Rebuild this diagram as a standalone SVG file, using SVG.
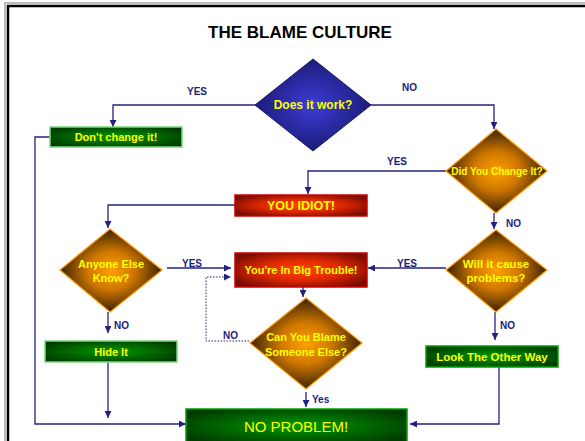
<svg xmlns="http://www.w3.org/2000/svg" width="585" height="441" viewBox="0 0 585 441">
<defs>
<style>
.frame{fill:none;stroke:#000;stroke-width:2.5}
.shadow{fill:none;stroke:#bbb;stroke-width:2}
.title{font-family:"Liberation Sans",Arial,sans-serif;font-weight:bold;font-size:17px;fill:#000;text-anchor:middle}
.con{fill:none;stroke:#23237f;stroke-width:1.3}
.dot{fill:none;stroke:#23237f;stroke-width:1;stroke-dasharray:1.5 1.5}
.lbl{font-family:"Liberation Sans",Arial,sans-serif;font-weight:bold;font-size:10px;fill:#1c1c80}
.nt{font-family:"Liberation Sans",Arial,sans-serif;font-weight:bold;font-size:11px;fill:#ffff00;text-anchor:middle}
.dblue{fill:url(#gBlue);stroke:#1a1a6a;stroke-width:1}
.dor{fill:url(#gOrange);stroke:#ff9900;stroke-width:1.2}
.bred{fill:url(#gRed);stroke:#cc0000;stroke-width:1.5}
.bgreen{fill:url(#gGreen);stroke:#7fd77f;stroke-width:1.5}
.bgreen2{fill:url(#gGreen);stroke:#00a000;stroke-width:1.5}
</style>
<radialGradient id="gBlue" cx="0.5" cy="0.5" r="0.5">
<stop offset="0" stop-color="#3c3cd8"/><stop offset="1" stop-color="#1c1c78"/>
</radialGradient>
<radialGradient id="gOrange" cx="0.5" cy="0.5" r="0.5">
<stop offset="0" stop-color="#ffa000"/><stop offset="0.45" stop-color="#d07800"/><stop offset="1" stop-color="#3a2200"/>
</radialGradient>
<radialGradient id="gRed" cx="0.5" cy="0.5" r="0.6">
<stop offset="0" stop-color="#ff4400"/><stop offset="0.5" stop-color="#e02800"/><stop offset="1" stop-color="#7a0c00"/>
</radialGradient>
<radialGradient id="gGreen" cx="0.5" cy="0.5" r="0.6">
<stop offset="0" stop-color="#009a00"/><stop offset="1" stop-color="#003c00"/>
</radialGradient>
<marker id="arr" viewBox="0 0 8 8" refX="8" refY="4" markerWidth="7" markerHeight="7" markerUnits="userSpaceOnUse" orient="auto">
<path d="M0,0 L8,4 L0,8 Z" fill="#23237f"/>
</marker>
</defs>

<path class="shadow" d="M5,441 V3 H585"/>
<path class="frame" d="M8,441 V6 H585"/>
<text class="title" x="300" y="38">THE BLAME CULTURE</text>

<g id="connectors">
<path class="con" d="M256,105 H113 V127" marker-end="url(#arr)"/>
<path class="con" d="M370,105 H494 V129" marker-end="url(#arr)"/>
<path class="con" d="M446,171 H308 V194" marker-end="url(#arr)"/>
<path class="con" d="M494,213 V229" marker-end="url(#arr)"/>
<path class="con" d="M446,268 H368" marker-end="url(#arr)"/>
<path class="con" d="M495,312 V340" marker-end="url(#arr)"/>
<path class="con" d="M499,367 V424 H410" marker-end="url(#arr)"/>
<path class="con" d="M235,205 H108 V228" marker-end="url(#arr)"/>
<path class="con" d="M167,268 H231" marker-end="url(#arr)"/>
<path class="con" d="M108,312 V333" marker-end="url(#arr)"/>
<path class="con" d="M108,362 V418" marker-end="url(#arr)"/>
<path class="con" d="M50,137 H35 V424 H186" marker-end="url(#arr)"/>
<path class="con" d="M303,287 V297" marker-end="url(#arr)"/>
<path class="dot" d="M249,341 H206 V277 H231" marker-end="url(#arr)"/>
<path class="con" d="M306,392 V407" marker-end="url(#arr)"/>
<text class="lbl" x="187" y="95">YES</text>
<text class="lbl" x="402" y="91">NO</text>
<text class="lbl" x="387" y="165">YES</text>
<text class="lbl" x="506" y="227">NO</text>
<text class="lbl" x="397" y="267">YES</text>
<text class="lbl" x="182" y="267">YES</text>
<text class="lbl" x="114" y="329">NO</text>
<text class="lbl" x="500" y="329">NO</text>
<text class="lbl" x="223" y="339">NO</text>
<text class="lbl" x="312" y="403">Yes</text>
</g>

<g id="n-works">
<path class="dblue" d="M313,59 L371,105 L313,151 L255,105 Z"/>
<text class="nt" x="313" y="109" style="font-size:12px">Does it work?</text>
</g>
<g id="n-dontchange">
<rect class="bgreen" x="50" y="127" width="132" height="20"/>
<text class="nt" x="116" y="141">Don't change it!</text>
</g>
<g id="n-changed">
<path class="dor" d="M496,129 L547,171 L496,213 L446,171 Z"/>
<text class="nt" x="497" y="175" style="font-size:10px">Did You Change It?</text>
</g>
<g id="n-idiot">
<rect class="bred" x="235" y="195" width="132" height="21"/>
<text class="nt" x="301" y="210" style="font-size:12.5px">YOU IDIOT!</text>
</g>
<g id="n-problems">
<path class="dor" d="M496,230 L547,270 L496,312 L446,270 Z"/>
<text class="nt" x="496" y="268" style="font-size:11.5px">Will it cause</text>
<text class="nt" x="496" y="282" style="font-size:11.5px">problems?</text>
</g>
<g id="n-trouble">
<rect class="bred" x="235" y="253" width="132" height="34"/>
<text class="nt" x="301" y="274">You're In Big Trouble!</text>
</g>
<g id="n-anyone">
<path class="dor" d="M110,229 L162,270 L110,312 L60,270 Z"/>
<text class="nt" x="111" y="268">Anyone Else</text>
<text class="nt" x="111" y="282">Know?</text>
</g>
<g id="n-hide">
<rect class="bgreen" x="45" y="341" width="132" height="21"/>
<text class="nt" x="111" y="356">Hide It</text>
</g>
<g id="n-blame">
<path class="dor" d="M306,298 L362,343 L306,389 L250,343 Z"/>
<text class="nt" x="306" y="341">Can You Blame</text>
<text class="nt" x="306" y="356">Someone Else?</text>
</g>
<g id="n-look">
<rect class="bgreen2" x="426" y="346" width="132" height="21"/>
<text class="nt" x="492" y="361" style="font-size:11.5px">Look The Other Way</text>
</g>
<g id="n-noproblem">
<rect class="bgreen2" x="186" y="409" width="221" height="34"/>
<text class="nt" x="296" y="432" style="font-weight:normal;font-size:15px">NO PROBLEM!</text>
</g>
</svg>
